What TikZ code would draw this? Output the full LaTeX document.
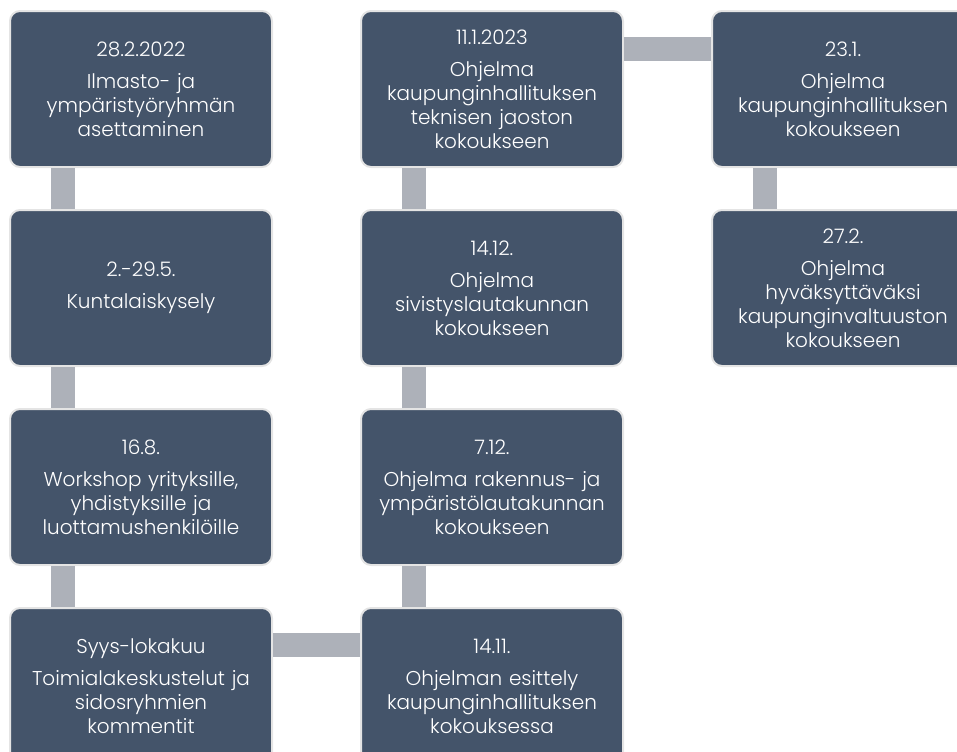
\documentclass[tikz,border=0pt]{standalone}
\usepackage{fontspec}
\setmainfont{Poppins}[UprightFont=* Light]
\usetikzlibrary{positioning}
\definecolor{boxblue}{HTML}{44546A}
\definecolor{linkgray}{HTML}{ADB1B9}
\definecolor{rimgray}{HTML}{E4E4E4}

\begin{document}
\begin{tikzpicture}[
    font=\fontsize{10}{12}\selectfont,
    stage/.style={draw=rimgray, line width=1pt, fill=boxblue, rounded corners=5pt, text=white, align=center, text width=127pt, inner sep=2pt, minimum width=131pt, minimum height=78pt},
    link/.style={draw=linkgray, line width=12pt},
    node distance=20.5pt and 43.5pt
]
\clip (0,0) rectangle (478.5pt,-375.5pt);
% column 1
\node[stage, anchor=north west] (a1) at (4.5pt,-5pt) {28.2.2022\\[4pt]Ilmasto- ja\\ympäristyöryhmän\\asettaminen};
\node[stage, below=of a1] (a2) {2.-29.5.\\[4pt]Kuntalaiskysely};
\node[stage, below=of a2] (a3) {16.8.\\[4pt]Workshop yrityksille,\\yhdistyksille ja\\luottamushenkilöille};
\node[stage, below=of a3] (a4) {Syys-lokakuu\\[4pt]Toimialakeskustelut ja\\sidosryhmien\\kommentit};
% column 2
\node[stage, right=of a1] (b1) {11.1.2023\\[4pt]Ohjelma\\kaupunginhallituksen\\teknisen jaoston\\kokoukseen};
\node[stage, below=of b1] (b2) {14.12.\\[4pt]Ohjelma\\sivistyslautakunnan\\kokoukseen};
\node[stage, below=of b2] (b3) {7.12.\\[4pt]Ohjelma rakennus- ja\\ympäristölautakunnan\\kokoukseen};
\node[stage, below=of b3] (b4) {14.11.\\[4pt]Ohjelman esittely\\kaupunginhallituksen\\kokouksessa};
% column 3
\node[stage, right=of b1] (c1) {23.1.\\[4pt]Ohjelma\\kaupunginhallituksen\\kokoukseen};
\node[stage, below=of c1] (c2) {27.2.\\[4pt]Ohjelma\\hyväksyttäväksi\\kaupunginvaltuuston\\kokoukseen};
% links
\draw[link] ([xshift=27pt]a1.south west) -- ([xshift=27pt]a2.north west);
\draw[link] ([xshift=27pt]a2.south west) -- ([xshift=27pt]a3.north west);
\draw[link] ([xshift=27pt]a3.south west) -- ([xshift=27pt]a4.north west);
\draw[link] ([yshift=-19pt]a4.north east) -- ([yshift=-19pt]b4.north west);
\draw[link] ([xshift=27pt]b4.north west) -- ([xshift=27pt]b3.south west);
\draw[link] ([xshift=27pt]b3.north west) -- ([xshift=27pt]b2.south west);
\draw[link] ([xshift=27pt]b2.north west) -- ([xshift=27pt]b1.south west);
\draw[link] ([yshift=-19.5pt]b1.north east) -- ([yshift=-19.5pt]c1.north west);
\draw[link] ([xshift=27pt]c1.south west) -- ([xshift=27pt]c2.north west);
\end{tikzpicture}
\end{document}
